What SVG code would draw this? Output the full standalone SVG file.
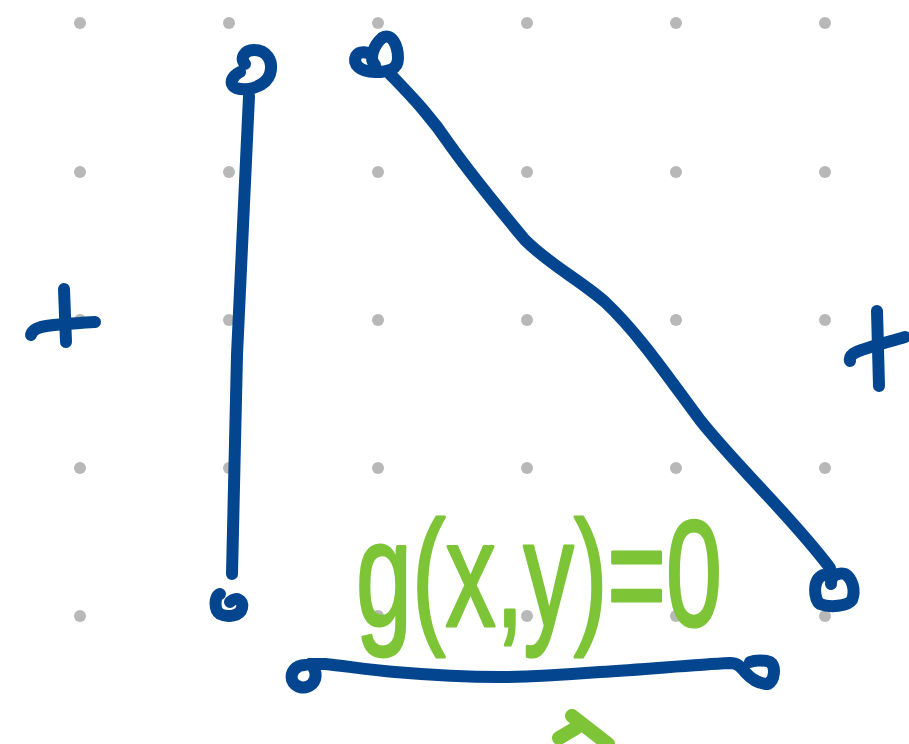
<svg xmlns="http://www.w3.org/2000/svg" width="909" height="744" viewBox="0 0 909 744">
<style>
.dot{fill:#b8b8b8}
.ink{fill:none;stroke:#03468f;stroke-width:12;stroke-linecap:round;stroke-linejoin:round}
.grn{fill:none;stroke:#7dc437;stroke-width:14;stroke-linecap:round;stroke-linejoin:round}
.lbl{font-family:"Liberation Sans","DejaVu Sans",sans-serif;font-size:150px;fill:#7dc437;stroke:#7dc437;stroke-width:3;stroke-linejoin:round}
</style>
<rect width="909" height="744" fill="#ffffff"/>
<g id="grid">
<circle class="dot" cx="80" cy="23" r="6"/><circle class="dot" cx="229" cy="23" r="6"/><circle class="dot" cx="378" cy="23" r="6"/><circle class="dot" cx="527" cy="23" r="6"/><circle class="dot" cx="676" cy="23" r="6"/><circle class="dot" cx="825" cy="23" r="6"/>
<circle class="dot" cx="80" cy="172" r="6"/><circle class="dot" cx="229" cy="172" r="6"/><circle class="dot" cx="378" cy="172" r="6"/><circle class="dot" cx="527" cy="172" r="6"/><circle class="dot" cx="676" cy="172" r="6"/><circle class="dot" cx="825" cy="172" r="6"/>
<circle class="dot" cx="80" cy="320" r="6"/><circle class="dot" cx="229" cy="320" r="6"/><circle class="dot" cx="378" cy="320" r="6"/><circle class="dot" cx="527" cy="320" r="6"/><circle class="dot" cx="676" cy="320" r="6"/><circle class="dot" cx="825" cy="320" r="6"/>
<circle class="dot" cx="80" cy="468" r="6"/><circle class="dot" cx="229" cy="468" r="6"/><circle class="dot" cx="378" cy="468" r="6"/><circle class="dot" cx="527" cy="468" r="6"/><circle class="dot" cx="676" cy="468" r="6"/><circle class="dot" cx="825" cy="468" r="6"/>
<circle class="dot" cx="80" cy="616" r="6"/><circle class="dot" cx="229" cy="616" r="6"/><circle class="dot" cx="378" cy="616" r="6"/><circle class="dot" cx="527" cy="616" r="6"/><circle class="dot" cx="676" cy="616" r="6"/><circle class="dot" cx="825" cy="616" r="6"/>
</g>
<g id="plus-left">
<path class="ink" d="M31,335 C33,326 45,325 95,322"/>
<path class="ink" d="M64,289 L66,342"/>
</g>
<g id="plus-right">
<path class="ink" d="M850,361 C848,352 860,350 905,337"/>
<path class="ink" d="M877,311 L879,386"/>
</g>
<g id="left-segment">
<path class="ink" d="M240,72 C232,76 228,84 236,88 C248,92 266,86 270,74 C274,60 266,50 254,50 C244,50 240,58 245,64"/>
<path class="ink" d="M249,96 L237,355 L232,574"/>
<path class="ink" d="M220,594 C214,596 214,610 220,614 C228,618 240,616 242,608 C244,600 236,596 230,602"/>
</g>
<g id="diagonal-segment">
<path class="ink" d="M375,65 C368,58 375,44 382,38 C392,32 398,46 398,58 C398,70 388,72 375,72 C360,72 352,64 356,56 C360,50 368,52 372,56"/>
<path class="ink" d="M390,74 C410,95 430,115 450,145 C475,180 500,210 525,240 C550,265 580,280 605,302 C640,335 670,380 700,420 C740,470 790,515 830,568"/>
<path class="ink" d="M823,575 C812,580 814,600 820,604 C830,608 848,606 852,600 C856,590 852,578 845,574 C838,572 830,576 831,584"/>
</g>
<g id="bottom-segment">
<path class="ink" d="M305,665 C296,665 290,672 292,680 C295,688 305,690 312,684 C318,678 316,668 310,664"/>
<path class="ink" d="M310,664 L325,664 C345,666 370,670 395,672 C430,675 470,677 500,677 C530,677 560,675 600,672 C650,669 690,665 730,663 C737,663 740,666 745,672 C752,680 760,684 768,684 C775,680 776,666 770,662 C765,660 755,660 750,662"/>
</g>
<g id="label">
<text class="lbl" x="356" y="626" textLength="366" lengthAdjust="spacingAndGlyphs">g(x,y)=0</text>
<path class="grn" d="M572,716 L608,744"/>
<path class="grn" d="M559,738 L576,728"/>
</g>
</svg>
